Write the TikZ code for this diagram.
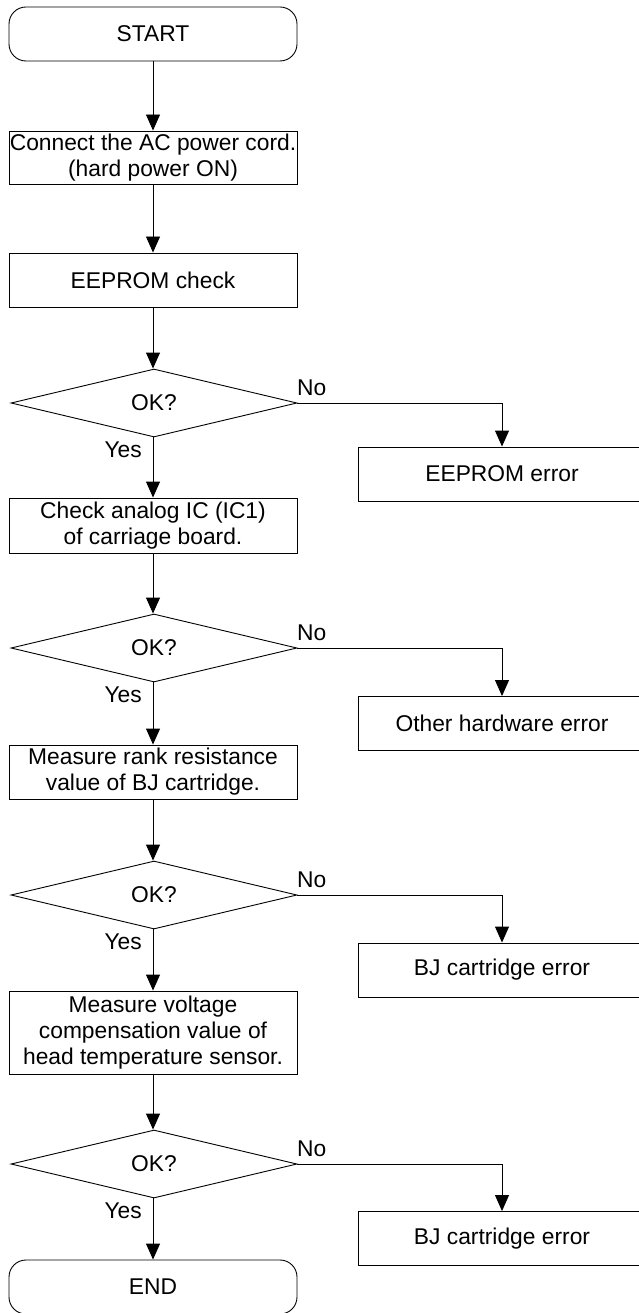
\documentclass[tikz,border=0pt]{standalone}
\usepackage{fontspec}
\setmainfont{Liberation Sans}
\usetikzlibrary{shapes.geometric,arrows.meta}
\begin{document}
\begin{tikzpicture}[x=1pt,y=-1pt,
  every node/.style={font=\fontsize{22.8}{26}\selectfont},
  term/.style={draw,rounded corners=17pt,minimum width=288pt,minimum height=54pt,inner sep=0pt,line width=0.9pt},
  procbox/.style={draw,align=center,minimum width=288pt,inner sep=0pt,line width=0.9pt},
  errbox/.style={draw,minimum width=288pt,minimum height=54pt,inner sep=0pt,line width=0.9pt},
  decide/.style={draw,diamond,aspect=4,minimum width=286pt,minimum height=68pt,inner sep=0pt,line width=0.9pt},
  lbl/.style={inner sep=0pt},
  arr/.style={line width=0.9pt,-{Triangle[length=16pt,width=14pt]}}]
\useasboundingbox (0,0) rectangle (639,1313);
\clip (0,0) rectangle (639,1313);
\fill[white] (0,0) rectangle (639,1313);

\node[term] (start) at (153,34) {START};
\node[procbox,minimum height=53pt] (a) at (153,157.5) {Connect the AC power cord.\\(hard power ON)};
\node[procbox,minimum height=54pt] (b) at (153,280) {EEPROM check};
\node[decide] (d1) at (154,403) {OK?};
\node[errbox] (e1) at (502,474) {EEPROM error};
\node[procbox,minimum height=55pt] (c) at (153,525.5) {Check analog IC (IC1)\\of carriage board.};
\node[decide] (d2) at (154,648) {OK?};
\node[errbox] (e2) at (502,723.5) {Other hardware error};
\node[procbox,minimum height=54pt] (d) at (153,772) {Measure rank resistance\\value of BJ cartridge.};
\node[decide] (d3) at (154,895) {OK?};
\node[errbox] (e3) at (502,970) {BJ cartridge error};
\node[procbox,minimum height=83pt] (e) at (153,1032.5) {Measure voltage\\compensation value of\\head temperature sensor.};
\node[decide] (d4) at (154,1164) {OK?};
\node[errbox] (e4) at (502,1238.5) {BJ cartridge error};
\node[term] (stop) at (153,1287) {END};

\node[lbl,anchor=base west] (n1) at (297,395) {No};
\node[lbl,anchor=base east] (y1) at (142,457) {Yes};
\node[lbl,anchor=base west] (n2) at (297,640) {No};
\node[lbl,anchor=base east] (y2) at (142,702) {Yes};
\node[lbl,anchor=base west] (n3) at (297,887) {No};
\node[lbl,anchor=base east] (y3) at (142,949) {Yes};
\node[lbl,anchor=base west] (n4) at (297,1156) {No};
\node[lbl,anchor=base east] (y4) at (142,1218) {Yes};

\draw[arr] (start) -- (a);
\draw[arr] (a) -- (b);
\draw[arr] (b) -- (b.south |- d1.north);
\draw[arr] (d1.south -| c.north) -- (c);
\draw[arr] (c) -- (c.south |- d2.north);
\draw[arr] (d2.south -| d.north) -- (d);
\draw[arr] (d) -- (d.south |- d3.north);
\draw[arr] (d3.south -| e.north) -- (e);
\draw[arr] (e) -- (e.south |- d4.north);
\draw[arr] (d4.south -| stop.north) -- (stop);

\draw[arr] (d1.east) -| (e1.north);
\draw[arr] (d2.east) -| (e2.north);
\draw[arr] (d3.east) -| (e3.north);
\draw[arr] (d4.east) -| (e4.north);
\end{tikzpicture}
\end{document}
